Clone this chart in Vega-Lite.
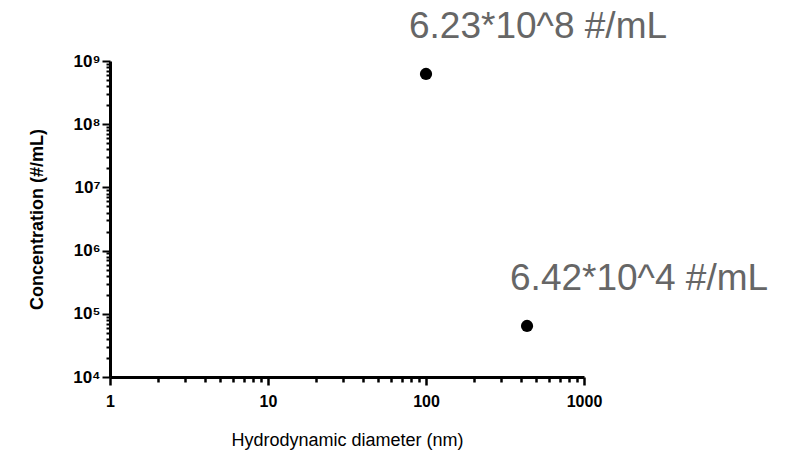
{
  "$schema": "https://vega.github.io/schema/vega-lite/v6.json",
  "width": 474,
  "height": 316,
  "autosize": {"type": "none"},
  "padding": {"left": 110, "top": 61, "right": 216, "bottom": 77},
  "background": "white",
  "config": {"view": {"stroke": null}, "font": "Liberation Sans"},
  "data": {"values": [
    {"d": 100, "c": 623000000, "label": "6.23*10^8 #/mL"},
    {"d": 436, "c": 64200, "label": "6.42*10^4 #/mL"}
  ]},
  "encoding": {
    "x": {
      "field": "d", "type": "quantitative",
      "scale": {"type": "log", "domain": [1, 1000], "nice": false},
      "axis": {
        "title": "Hydrodynamic diameter (nm)",
        "values": [1,2,3,4,5,6,7,8,9,10,20,30,40,50,60,70,80,90,100,200,300,400,500,600,700,800,900,1000],
        "labelExpr": "abs(log(datum.value)/LN10 - round(log(datum.value)/LN10)) < 0.001 ? format(datum.value, 'd') : ''",
        "labelOverlap": false,
        "labelFlush": false,
        "labelFont": "Liberation Sans",
        "labelFontSize": 16,
        "labelFontWeight": "bold",
        "labelColor": "black",
        "labelPadding": 8,
        "grid": false,
        "domainColor": "black",
        "domainWidth": 3,
        "tickColor": "black",
        "tickWidth": 2.5,
        "tickSize": {"condition": {"test": "abs(log(datum.value)/LN10 - round(log(datum.value)/LN10)) < 0.001", "value": 8}, "value": 5},
        "titleFont": "Liberation Sans",
        "titleFontSize": 18,
        "titleFontWeight": "normal",
        "titleColor": "black",
        "titlePadding": 22
      }
    },
    "y": {
      "field": "c", "type": "quantitative",
      "scale": {"type": "log", "domain": [10000, 1000000000], "nice": false},
      "axis": {
        "title": "Concentration (#/mL)",
        "values": [10000,20000,30000,40000,50000,60000,70000,80000,90000,100000,200000,300000,400000,500000,600000,700000,800000,900000,1000000,2000000,3000000,4000000,5000000,6000000,7000000,8000000,9000000,10000000,20000000,30000000,40000000,50000000,60000000,70000000,80000000,90000000,100000000,200000000,300000000,400000000,500000000,600000000,700000000,800000000,900000000,1000000000],
        "labelExpr": "abs(log(datum.value)/LN10 - round(log(datum.value)/LN10)) < 0.001 ? '10' + ['⁰','¹','²','³','⁴','⁵','⁶','⁷','⁸','⁹'][round(log(datum.value)/LN10)] : ''",
        "labelOverlap": false,
        "labelFont": "Liberation Sans",
        "labelFontSize": 17,
        "labelFontWeight": "bold",
        "labelColor": "black",
        "labelPadding": 2,
        "grid": false,
        "domainColor": "black",
        "domainWidth": 3,
        "tickColor": "black",
        "tickWidth": 2,
        "tickSize": {"condition": {"test": "abs(log(datum.value)/LN10 - round(log(datum.value)/LN10)) < 0.001", "value": 8}, "value": 4},
        "titleFont": "Liberation Sans",
        "titleFontSize": 18,
        "titleFontWeight": "bold",
        "titleColor": "black",
        "titlePadding": 26
      }
    }
  },
  "layer": [
    {"mark": {"type": "point", "filled": true, "shape": "circle", "size": 150, "color": "black", "opacity": 1}},
    {"mark": {"type": "text", "fontSize": 37, "color": "#666666", "font": "Liberation Sans", "dx": 112, "dy": -36, "align": "center", "baseline": "alphabetic"},
     "encoding": {"text": {"field": "label"}}}
  ]
}
